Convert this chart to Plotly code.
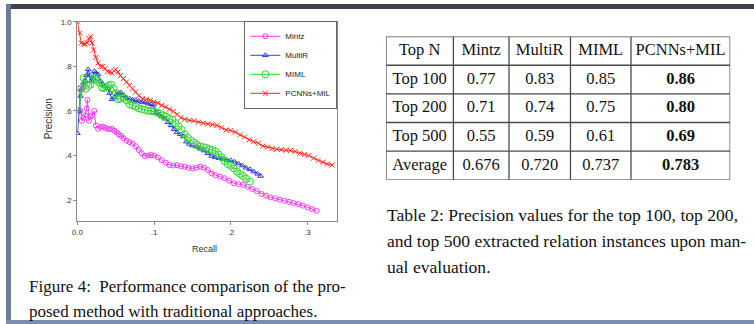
import plotly.graph_objects as go

W, H = 754, 324

# ---------------- data ----------------
pcnn_recall = [0.000,0.003,0.005,0.008,0.010,0.013,0.015,0.017,0.019,0.021,0.024,0.027,0.030,0.033,0.036,0.039,0.042,0.045,0.048,0.050,0.053,0.056,0.060,0.064,0.068,0.072,0.076,0.080,0.085,0.090,0.095,0.100,0.105,0.110,0.115,0.120,0.125,0.130,0.135,0.140,0.146,0.152,0.158,0.164,0.170,0.176,0.182,0.188,0.194,0.200,0.206,0.212,0.218,0.224,0.230,0.236,0.242,0.248,0.254,0.260,0.266,0.272,0.278,0.284,0.290,0.296,0.302,0.308,0.314,0.320,0.326,0.332]
pcnn_precision = [1.000,0.950,0.905,0.900,0.900,0.905,0.925,0.933,0.905,0.874,0.840,0.815,0.800,0.800,0.790,0.778,0.775,0.771,0.780,0.786,0.775,0.758,0.745,0.730,0.715,0.700,0.685,0.668,0.655,0.652,0.648,0.640,0.635,0.625,0.618,0.608,0.598,0.585,0.570,0.562,0.558,0.556,0.550,0.545,0.542,0.538,0.535,0.525,0.515,0.512,0.505,0.493,0.483,0.470,0.462,0.455,0.442,0.438,0.432,0.428,0.426,0.424,0.423,0.418,0.410,0.405,0.400,0.388,0.378,0.370,0.362,0.357]

multir_recall = [0.000,0.002,0.004,0.006,0.008,0.010,0.012,0.014,0.016,0.018,0.020,0.022,0.024,0.027,0.030,0.033,0.036,0.039,0.042,0.045,0.048,0.051,0.054,0.057,0.060,0.064,0.068,0.072,0.076,0.080,0.084,0.088,0.092,0.096,0.099,0.102,0.106,0.110,0.114,0.118,0.122,0.126,0.130,0.134,0.138,0.142,0.146,0.150,0.155,0.160,0.165,0.170,0.175,0.180,0.185,0.190,0.195,0.200,0.205,0.210,0.215,0.220,0.225,0.230,0.235,0.239]
multir_precision = [0.500,0.600,0.667,0.700,0.726,0.735,0.760,0.786,0.760,0.734,0.745,0.778,0.772,0.763,0.734,0.720,0.712,0.700,0.680,0.652,0.660,0.674,0.680,0.682,0.670,0.660,0.655,0.650,0.648,0.645,0.640,0.638,0.633,0.630,0.627,0.593,0.585,0.575,0.565,0.549,0.535,0.518,0.505,0.495,0.485,0.462,0.452,0.445,0.440,0.430,0.422,0.410,0.398,0.392,0.388,0.385,0.380,0.378,0.372,0.364,0.355,0.345,0.338,0.328,0.318,0.308]

miml_recall = [0.002,0.005,0.008,0.011,0.014,0.017,0.020,0.023,0.026,0.029,0.032,0.035,0.038,0.041,0.044,0.047,0.050,0.053,0.056,0.060,0.064,0.068,0.072,0.076,0.080,0.084,0.088,0.092,0.096,0.100,0.104,0.108,0.112,0.116,0.120,0.124,0.128,0.132,0.136,0.140,0.144,0.148,0.152,0.156,0.160,0.164,0.168,0.172,0.176,0.180,0.184,0.188,0.192,0.196,0.200,0.204,0.208,0.212,0.216,0.220,0.225]
miml_precision = [0.600,0.700,0.748,0.700,0.712,0.718,0.741,0.748,0.735,0.726,0.705,0.702,0.708,0.714,0.718,0.700,0.680,0.652,0.655,0.660,0.648,0.630,0.625,0.620,0.612,0.608,0.605,0.600,0.600,0.598,0.593,0.588,0.580,0.575,0.565,0.560,0.545,0.532,0.515,0.495,0.480,0.468,0.458,0.448,0.440,0.438,0.435,0.428,0.425,0.418,0.405,0.392,0.375,0.362,0.354,0.342,0.328,0.318,0.308,0.296,0.283]

mintz_recall = [0.002,0.004,0.006,0.008,0.010,0.012,0.013,0.015,0.017,0.019,0.022,0.024,0.027,0.030,0.033,0.036,0.039,0.042,0.045,0.048,0.051,0.054,0.057,0.060,0.064,0.068,0.072,0.076,0.080,0.084,0.088,0.092,0.096,0.100,0.105,0.110,0.115,0.120,0.125,0.130,0.135,0.140,0.145,0.150,0.155,0.160,0.165,0.170,0.175,0.180,0.186,0.192,0.198,0.204,0.210,0.216,0.222,0.228,0.234,0.240,0.246,0.252,0.258,0.264,0.270,0.276,0.282,0.288,0.294,0.300,0.306,0.312]
mintz_precision = [0.700,0.600,0.556,0.570,0.580,0.610,0.650,0.556,0.575,0.580,0.600,0.535,0.520,0.528,0.530,0.524,0.520,0.518,0.520,0.512,0.505,0.495,0.488,0.478,0.467,0.460,0.453,0.442,0.425,0.410,0.398,0.400,0.402,0.400,0.392,0.379,0.368,0.357,0.355,0.357,0.352,0.350,0.345,0.342,0.345,0.350,0.346,0.335,0.320,0.312,0.305,0.298,0.287,0.276,0.272,0.268,0.260,0.250,0.240,0.228,0.220,0.212,0.208,0.202,0.197,0.192,0.187,0.182,0.175,0.168,0.160,0.152]

x_tickvals = [0.0, 0.1, 0.2, 0.3]
x_ticktext = ["0.0", ".1", ".2", ".3"]
y_tickvals = [0.2, 0.4, 0.6, 0.8, 1.0]
y_ticktext = [".2", ".4", ".6", ".8", "1.0"]

table_header = ["Top N", "Mintz", "MultiR", "MIML", "PCNNs+MIL"]
table_topn = ["Top 100", "Top 200", "Top 500", "Average"]
table_mintz = ["0.77", "0.71", "0.55", "0.676"]
table_multir = ["0.83", "0.74", "0.59", "0.720"]
table_miml = ["0.85", "0.75", "0.61", "0.737"]
table_pcnn = ["0.86", "0.80", "0.69", "0.783"]

fig_caption = ["Figure 4:  Performance comparison of the pro-",
               "posed method with traditional approaches."]
table_caption = ["Table 2: Precision values for the top 100, top 200,",
                 "and top 500 extracted relation instances upon man-",
                 "ual evaluation."]

# ---------------- layout helpers ----------------
def px_x(p):
    return p / W

def px_y(p):
    return 1 - p / H

fig = go.Figure()

# ---------------- PR curves ----------------
series = [
    ("Mintz", mintz_recall, mintz_precision, "#f03cf0", "circle-open", 5),
    ("MultiR", multir_recall, multir_precision, "#2f3fd6", "triangle-up-open", 5),
    ("MIML", miml_recall, miml_precision, "#2ed62e", "circle-open", 7),
    ("PCNNs+MIL", pcnn_recall, pcnn_precision, "#ff2a1a", "x-thin-open", 5),
]
for name, xs, ys, col, sym, sz in series:
    fig.add_trace(go.Scatter(
        x=xs, y=ys, name=name, mode="lines+markers",
        line=dict(color=col, width=1),
        marker=dict(symbol=sym, size=sz, color=col, line=dict(color=col, width=1)),
    ))

# ---------------- table (text trace on its own cell axes) ----------------
col_widths = [68, 56, 62, 61, 100]   # pixel widths of the table columns
row_h = 29                           # pixel height of each row
tbl_left, tbl_top = 383, 33
n_rows = 1 + len(table_topn)
tbl_w = sum(col_widths)
tbl_h = row_h * n_rows

col_edges = [0]
for w_ in col_widths:
    col_edges.append(col_edges[-1] + w_)
col_centers = [(col_edges[i] + col_edges[i + 1]) / 2 for i in range(len(col_widths))]

columns = [table_topn, table_mintz, table_multir, table_miml,
           ["<b>%s</b>" % v for v in table_pcnn]]
tx, ty, tt = [], [], []
for ci, head in enumerate(table_header):
    tx.append(col_centers[ci]); ty.append(0.5); tt.append(head)
    for ri, v in enumerate(columns[ci]):
        tx.append(col_centers[ci]); ty.append(ri + 1.5); tt.append(v)
fig.add_trace(go.Scatter(
    x=tx, y=ty, text=tt, mode="text", xaxis="x2", yaxis="y2",
    textposition="middle center", showlegend=False, hoverinfo="skip",
    textfont=dict(family="Liberation Serif", size=16.5, color="#111"),
))

shapes = []
line_style = dict(color="#4a4a4a", width=1.3)
for e in col_edges:
    shapes.append(dict(type="line", xref="x2", yref="y2", x0=e, x1=e, y0=0, y1=n_rows,
                       line=line_style))
for r in range(n_rows + 1):
    shapes.append(dict(type="line", xref="x2", yref="y2", x0=0, x1=tbl_w, y0=r, y1=r,
                       line=line_style))

axis_font = dict(family="Liberation Sans", size=8, color="#333")
fig.update_layout(
    width=W, height=H,
    margin=dict(l=0, r=0, t=0, b=0),
    paper_bgcolor="white", plot_bgcolor="white",
    showlegend=True,
    legend=dict(x=px_x(334), y=px_y(17), xanchor="right", yanchor="top",
                bgcolor="white", bordercolor="#666", borderwidth=1,
                font=dict(family="Liberation Sans", size=8, color="#222"),
                itemwidth=30, tracegroupgap=0),
    xaxis=dict(domain=[px_x(72), px_x(334)], range=[0, 0.339],
               tickvals=x_tickvals, ticktext=x_ticktext, tickfont=axis_font,
               showgrid=False, zeroline=False, showline=True, linecolor="#888",
               linewidth=1, mirror=True, ticks="outside", ticklen=3, tickcolor="#888"),
    yaxis=dict(domain=[px_y(220), px_y(18)], range=[0.105, 1.0],
               tickvals=y_tickvals, ticktext=y_ticktext, tickfont=axis_font,
               showgrid=False, zeroline=False, showline=True, linecolor="#888",
               linewidth=1, mirror=True, ticks="outside", ticklen=3, tickcolor="#888"),
    xaxis2=dict(domain=[px_x(tbl_left), px_x(tbl_left + tbl_w)], range=[0, tbl_w],
                visible=False, anchor="y2", fixedrange=True),
    yaxis2=dict(domain=[px_y(tbl_top + tbl_h), px_y(tbl_top)], range=[n_rows, 0],
                visible=False, anchor="x2", fixedrange=True),
)

ann = []
ann.append(dict(text="Recall", x=px_x(200), y=px_y(248), xref="paper", yref="paper",
                xanchor="center", yanchor="middle",
                showarrow=False, font=dict(family="Liberation Sans", size=9, color="#333")))
ann.append(dict(text="Precision", x=px_x(43), y=px_y(116), xref="paper", yref="paper",
                xanchor="center", yanchor="middle",
                showarrow=False, textangle=-90,
                font=dict(family="Liberation Sans", size=10, color="#333")))
for i, line in enumerate(fig_caption):
    ann.append(dict(text=line, x=px_x(21), y=px_y(286 + 25 * i), xref="paper", yref="paper",
                    xanchor="left", yanchor="middle", showarrow=False,
                    font=dict(family="Liberation Serif", size=17, color="#111")))
for i, line in enumerate(table_caption):
    ann.append(dict(text=line, x=px_x(382), y=px_y(214 + 26 * i), xref="paper", yref="paper",
                    xanchor="left", yanchor="middle", showarrow=False,
                    font=dict(family="Liberation Serif", size=17.6, color="#111")))
fig.update_layout(annotations=ann)

# slide frame around the page
shapes += [
    dict(type="rect", xref="paper", yref="paper", x0=0, x1=1, y0=px_y(5), y1=1,
         fillcolor="#3d424b", line=dict(width=0)),
    dict(type="rect", xref="paper", yref="paper", x0=0, x1=px_x(5), y0=0, y1=1,
         fillcolor="#6b7c9a", line=dict(width=0)),
    dict(type="rect", xref="paper", yref="paper", x0=0, x1=1, y0=0, y1=px_y(320),
         fillcolor="#7a8db0", line=dict(width=0)),
]
fig.update_layout(shapes=shapes)

fig.write_html("out.html")
